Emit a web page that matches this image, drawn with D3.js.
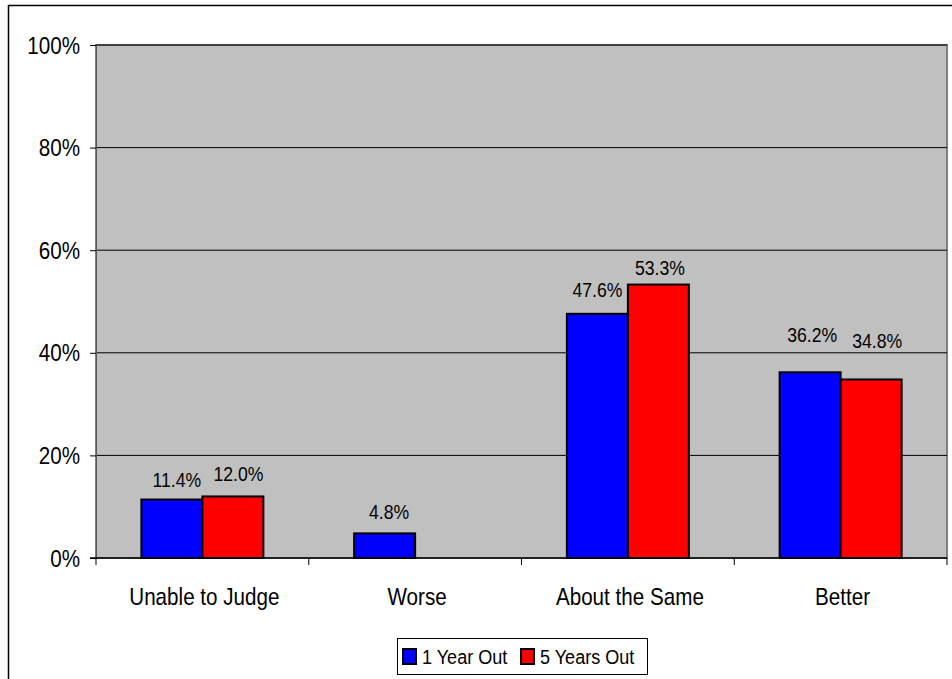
<!DOCTYPE html>
<html><head><meta charset="utf-8">
<script src="https://cdn.jsdelivr.net/npm/d3@7"></script>
<style>body{margin:0;background:#fff}svg{display:block}text{font-family:"Liberation Sans",Arial,sans-serif;fill:#000}</style>
</head><body><svg id="c" width="952" height="679"></svg>
<script>
const categories = ["Unable to Judge","Worse","About the Same","Better"];
const seriesNames = ["1 Year Out","5 Years Out"];
const oneYear = [11.4, 4.8, 47.6, 36.2];
const fiveYears = [12.0, null, 53.3, 34.8];
const yTicks = [0,20,40,60,80,100];
const colors = ["#0000ff","#ff0000"];

const SX = 0.86; // horizontal condense for narrow look
const svg = d3.select("#c");
function txt(g, x, y, s, size, anchor){
  return g.append("text").attr("transform",`translate(${x},${y}) scale(${SX},1)`)
    .attr("text-anchor",anchor||"middle").style("font-size",size+"px").text(s);
}
svg.append("rect").attr("x",8.5).attr("y",5.5).attr("width",960).attr("height",700).attr("fill","#fff").attr("stroke","#000").attr("stroke-width",1.5);

const L=96, R=947, T=45, B=558;
const x = d3.scaleBand().domain(categories).range([L,R]);
const y = d3.scaleLinear().domain([0,100]).range([B,T]);
const barW = 61;

svg.append("rect").attr("x",L).attr("y",T).attr("width",R-L).attr("height",B-T).attr("fill","#c0c0c0").attr("stroke","#808080").attr("stroke-width",2);

// gridlines
svg.append("g").selectAll("line").data(yTicks.filter(d=>d>0)).join("line")
  .attr("x1",L).attr("x2",R).attr("y1",d=>y(d)).attr("y2",d=>y(d)).attr("stroke","#000").attr("stroke-width",1);

// y axis
const ya = svg.append("g").attr("transform",`translate(${L},0)`)
  .call(d3.axisLeft(y).tickValues(yTicks).tickFormat("").tickSize(6));
ya.select(".domain").attr("stroke","#555");
ya.selectAll(".tick line").attr("stroke","#000");
const yl = svg.append("g");
yTicks.forEach(t=> txt(yl, 80, y(t)+8.5, t+"%", 24, "end"));

// x axis
const xa = svg.append("g").attr("transform",`translate(0,${B})`);
xa.append("line").attr("x1",L-6).attr("x2",R).attr("y1",0).attr("y2",0).attr("stroke","#000").attr("stroke-width",1.5);
const edges = categories.map(c=>x(c)).concat([R]);
xa.selectAll("line.t").data(edges).join("line").attr("class","t")
  .attr("x1",d=>d).attr("x2",d=>d).attr("y1",0).attr("y2",7).attr("stroke","#000");
const xl = svg.append("g");
categories.forEach(c=> txt(xl, x(c)+x.bandwidth()/2 + 2, B+47, c, 24));

const data = [];
categories.forEach((c,i)=>{
  [oneYear[i],fiveYears[i]].forEach((v,j)=>{ if(v!=null) data.push({c,i,v,j}); });
});
const bx = d=> x(d.c)+x.bandwidth()/2 - barW + d.j*barW;
svg.append("g").selectAll("rect").data(data).join("rect")
  .attr("x",bx).attr("y",d=>y(d.v)).attr("width",barW).attr("height",d=>B-y(d.v))
  .attr("fill",d=>colors[d.j]).attr("stroke","#000").attr("stroke-width",2);
// label placement nudges (layout only), per category/series
const lift = [[12.5,15.4],[14.4,0],[16.8,9.6],[30.3,31.5]];
const nudge = [[5,5.5],[4.5,0],[0,1.5],[2,6]];
const dl = svg.append("g");
data.forEach(d=> txt(dl, bx(d)+barW/2+nudge[d.i][d.j], y(d.v)-lift[d.i][d.j], d.v.toFixed(1)+"%", 20.5));

// legend
const lg = svg.append("g");
lg.append("rect").attr("x",397.5).attr("y",638.5).attr("width",250).attr("height",36).attr("fill","#fff").attr("stroke","#000").attr("stroke-width",1);
const lx=[403,521];
seriesNames.forEach((s,i)=>{
  lg.append("rect").attr("x",lx[i]).attr("y",649).attr("width",13).attr("height",15).attr("fill",colors[i]).attr("stroke","#000").attr("stroke-width",2);
  txt(lg, lx[i]+19, 664, s, 21, "start");
});
</script></body></html>
